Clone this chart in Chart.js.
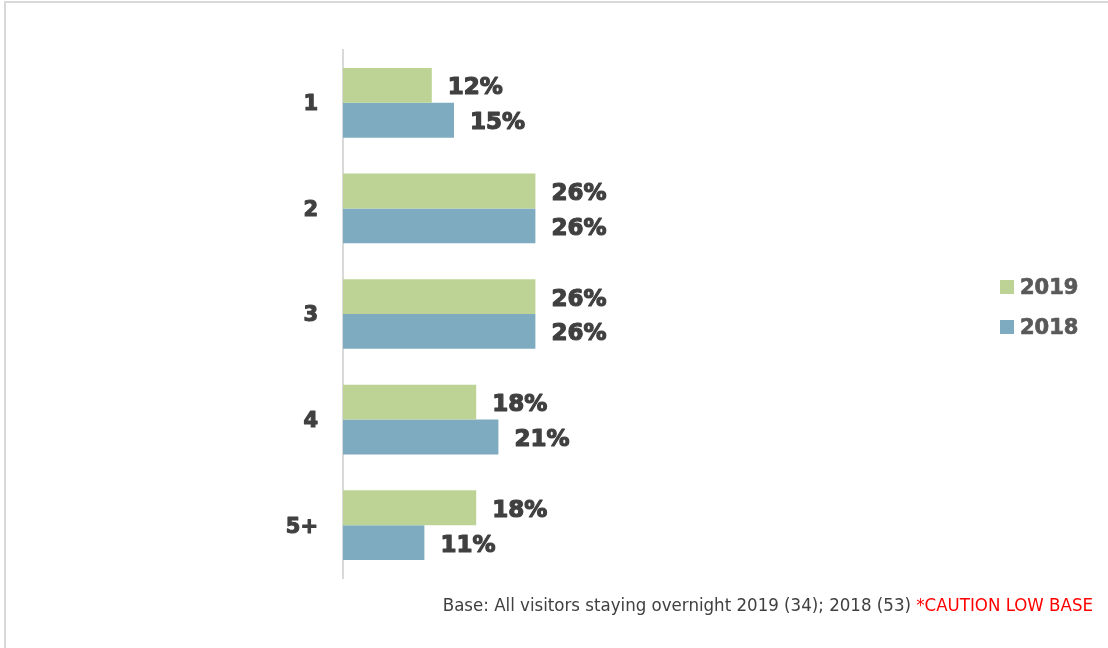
<!DOCTYPE html>
<html>
<head>
<meta charset="utf-8">
<script src="https://cdn.jsdelivr.net/npm/chart.js@4/dist/chart.umd.min.js"></script>
<style>
  html, body { margin: 0; padding: 0; background: #fff; }
  body { width: 1108px; height: 648px; position: relative; overflow: hidden; }
  #frame { position: absolute; left: 4px; top: 1px; width: 1200px; height: 700px; border: 2px solid #d9d9d9; box-sizing: border-box; }
  #wrap { position: absolute; left: 0; top: 0; width: 1108px; height: 648px; }
  #legend { position: absolute; left: 1000px; top: 267px; font-family: "DejaVu Sans", Verdana, sans-serif; font-weight: bold; font-size: 21px; color: #595959; -webkit-text-stroke: 0.7px #595959; }
  #legend div { height: 40px; display: flex; align-items: center; }
  #legend span.sw { display: inline-block; width: 14px; height: 14px; margin-right: 6px; }
  #footer { position: absolute; right: 15px; top: 594px; font-family: "DejaVu Sans Condensed", Tahoma, sans-serif; font-size: 18.5px; color: #404040; white-space: nowrap; }
  #footer .red { color: #ff0000; }
</style>
</head>
<body>
<div id="frame"></div>
<div id="wrap"><canvas id="c" width="1108" height="648"></canvas></div>
<div id="legend"></div>
<div id="footer">Base: All visitors staying overnight 2019 (34); 2018 (53) <span class="red">*CAUTION LOW BASE</span></div>
<script>
const categories = ["1", "2", "3", "4", "5+"];
const series2019 = [12, 26, 26, 18, 18];
const series2018 = [15, 26, 26, 21, 11];
const seriesNames = ["2019", "2018"];
const seriesColors = ["#bdd395", "#7fabc1"];

const valueLabels = {
  id: 'valueLabels',
  afterDatasetsDraw(chart) {
    const ctx = chart.ctx;
    ctx.save();
    ctx.font = 'bold 23px "DejaVu Sans", Verdana, sans-serif';
    ctx.fillStyle = '#404040';
    ctx.strokeStyle = '#404040';
    ctx.lineWidth = 1.2;
    ctx.lineJoin = 'round';
    ctx.textAlign = 'left';
    ctx.textBaseline = 'middle';
    chart.data.datasets.forEach((ds, i) => {
      const meta = chart.getDatasetMeta(i);
      meta.data.forEach((bar, j) => {
        const t = ds.data[j] + '%';
        ctx.fillText(t, bar.x + 16, bar.y + 3);
        ctx.strokeText(t, bar.x + 16, bar.y + 3);
      });
    });
    ctx.restore();
  }
};

const tickStroke = {
  id: 'tickStroke',
  afterDraw(chart) {
    const y = chart.scales.y;
    const ctx = chart.ctx;
    ctx.save();
    ctx.font = 'bold 21px "DejaVu Sans", Verdana, sans-serif';
    ctx.strokeStyle = '#404040';
    ctx.lineWidth = 1.1;
    ctx.lineJoin = 'round';
    ctx.textAlign = 'right';
    ctx.textBaseline = 'middle';
    y.ticks.forEach((tk, i) => {
      ctx.strokeText(categories[i], y.right - 25, y.getPixelForTick(i) + 2);
    });
    ctx.restore();
  }
};

const chart = new Chart(document.getElementById('c'), {
  type: 'bar',
  data: {
    labels: categories,
    datasets: [
      { label: seriesNames[0], data: series2019, backgroundColor: seriesColors[0], borderWidth: 0 },
      { label: seriesNames[1], data: series2018, backgroundColor: seriesColors[1], borderWidth: 0 }
    ]
  },
  options: {
    indexAxis: 'y',
    responsive: false,
    animation: false,
    events: [],
    layout: { padding: { left: 0, top: 50, bottom: 70, right: 1108 - 565 } },
    datasets: { bar: { categoryPercentage: 0.66, barPercentage: 1.0 } },
    plugins: { legend: { display: false }, tooltip: { enabled: false } },
    scales: {
      x: { display: false, min: 0, max: 30 },
      y: {
        display: true,
        afterFit(scale) { scale.width = 343; },
        grid: { display: false, drawTicks: false },
        border: { display: true, color: '#d9d9d9', width: 2 },
        ticks: {
          padding: 25,
          labelOffset: 2,
          color: '#404040',
          font: { family: '"DejaVu Sans", Verdana, sans-serif', weight: 'bold', size: 21 }
        }
      }
    }
  },
  plugins: [valueLabels, tickStroke]
});

const legend = document.getElementById('legend');
seriesNames.forEach((n, i) => {
  const d = document.createElement('div');
  const sw = document.createElement('span');
  sw.className = 'sw';
  sw.style.background = seriesColors[i];
  d.appendChild(sw);
  d.appendChild(document.createTextNode(n));
  legend.appendChild(d);
});
</script>
</body>
</html>
